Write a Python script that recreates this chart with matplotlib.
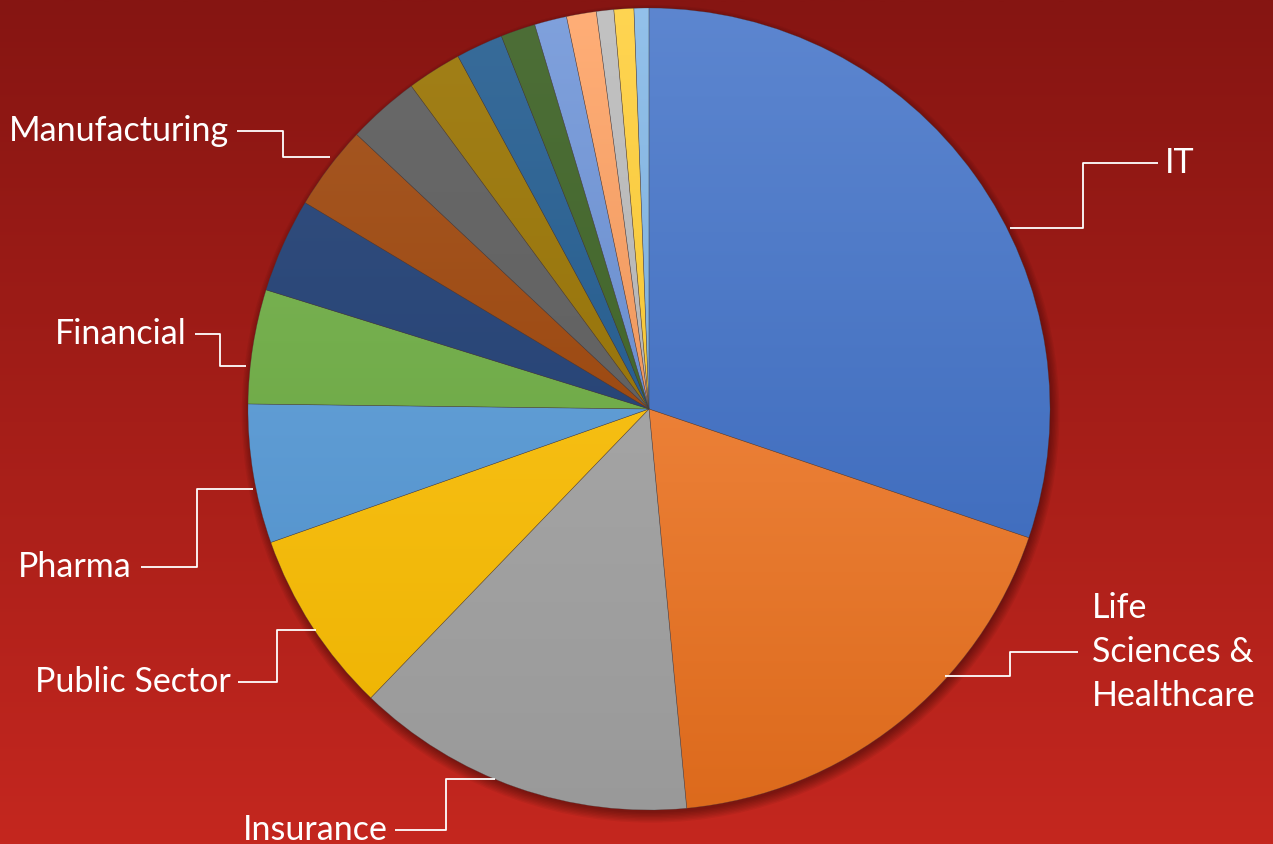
import matplotlib.pyplot as plt
import numpy as np
from matplotlib.colors import hsv_to_rgb, rgb_to_hsv, to_rgb
from matplotlib.patches import Circle

# slice shares (%), clockwise from 12 o'clock
segments = [
    "IT", "Life\nSciences &\nHealthcare", "Insurance", "Public Sector", "Pharma",
    "Financial", "Other 1", "Manufacturing", "Other 2", "Other 3", "Other 4",
    "Other 5", "Other 6", "Other 7", "Other 8", "Other 9", "Other 10",
]
shares = [30.2, 18.3, 13.7, 7.4, 5.6, 4.6, 3.8, 3.4, 2.9, 2.2, 1.9, 1.4, 1.3, 1.2, 0.7, 0.8, 0.6]
colors = [
    "#4472C4", "#ED7D31", "#A5A5A5", "#FFC000", "#5B9BD5", "#70AD47",
    "#264478", "#9E480E", "#636363", "#997300", "#255E91", "#43682B",
    "#698ED0", "#F1975A", "#B7B7B7", "#FFCD33", "#7CAFDD",
]
labelled = ["IT", "Life\nSciences &\nHealthcare", "Insurance", "Public Sector",
            "Pharma", "Financial", "Manufacturing"]

# label layout in pixels: leader start, elbow x, end (x, y), text x, alignment
W, H = 1273, 844
CX, CY, R = 649, 409, 401
layout = {
    "IT": ((1010, 228), 1083, (1158, 163), 1165, "left"),
    "Life\nSciences &\nHealthcare": ((945, 676), 1010, (1078, 652), 1092, "left"),
    "Insurance": ((495, 779), 446, (395, 830), 388, "right"),
    "Public Sector": ((316, 630), 277, (238, 682), 231, "right"),
    "Pharma": ((253, 489), 197, (141, 567), 132, "right"),
    "Financial": ((246, 366), 220, (195, 334), 187, "right"),
    "Manufacturing": ((330, 157), 283, (237, 131), 229, "right"),
}


def px(x, y):
    return (x - CX) / R, (CY - y) / R


def shade(c, sat, val):
    h, s, v = rgb_to_hsv(to_rgb(c))
    return hsv_to_rgb((h, min(s * sat, 1), min(v * val, 1)))


def main() -> None:
    plt.rcParams["font.family"] = ["Lato", "DejaVu Sans"]
    fig = plt.figure(figsize=(W / 100, H / 100), dpi=100)
    ax = fig.add_axes([0, 0, 1, 1])
    x0, y1 = px(0, 0)
    x1, y0 = px(W, H)

    # background gradient
    top = np.array(to_rgb("#861512"))
    bot = np.array(to_rgb("#C4271F"))
    t = np.linspace(0, 1, 256)[:, None]
    bg = (top * (1 - t) + bot * t)[:, None, :]
    ax.imshow(bg, extent=(x0, x1, y0, y1), aspect="auto", zorder=0, interpolation="bilinear")

    # soft shadow under the pie
    for k in range(8):
        ax.add_patch(Circle((0.004, -0.012), 0.995 + k * 0.0035, color="black",
                            alpha=0.05, lw=0, zorder=1))

    wedges, _ = ax.pie(
        shares, colors=colors, startangle=90, counterclock=False, radius=1,
        wedgeprops=dict(linewidth=0.4, edgecolor=(0.25, 0.25, 0.25, 0.45)),
    )
    ax.set_xlim(x0, x1)
    ax.set_ylim(y0, y1)
    ax.set_aspect("equal")
    ax.axis("off")

    # vertical gradient fill in each wedge
    tt = np.linspace(0, 1, 200)[:, None]
    for w, c in zip(wedges, colors):
        hi, lo = shade(c, 0.85, 1.06), shade(c, 1.1, 0.93)
        img = (hi * (1 - tt) + lo * tt)[:, None, :]
        im = ax.imshow(img, extent=(-1, 1, -1, 1), aspect="auto", zorder=3,
                       interpolation="bilinear")
        im.set_clip_path(w)
        w.set_facecolor("none")
        w.set_zorder(4)

    for name in labelled:
        start, ex, end, tx, ha = layout[name]
        pts = [start, (ex, start[1]), (ex, end[1]), end]
        xs, ys = zip(*[px(*p) for p in pts])
        ax.plot(xs, ys, color="white", lw=1.3, zorder=5, solid_capstyle="butt")
        lx, ly = px(tx, end[1])
        ax.text(lx, ly, name, ha=ha, va="center", color="white", fontsize=24.5,
                linespacing=1.45, zorder=6)

    fig.savefig("out.png", dpi=100)
    plt.close(fig)


if __name__ == "__main__":
    main()
